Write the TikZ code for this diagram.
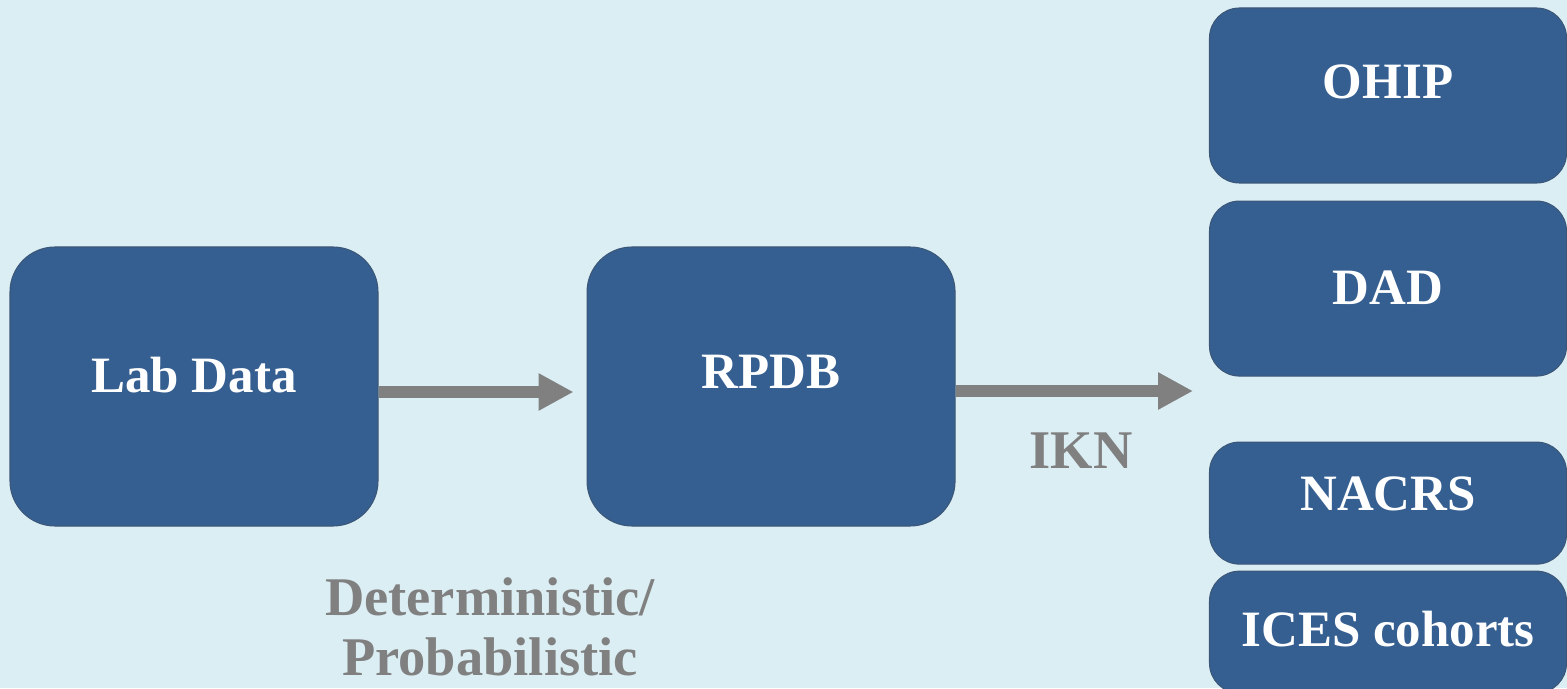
\documentclass[tikz,border=0pt]{standalone}
\usepackage{fontspec}
\setmainfont{Liberation Serif}
\usepackage{xcolor}
\usepackage{tikz}
\usetikzlibrary{positioning,arrows.meta}

\definecolor{bgblue}{HTML}{DBEEF4}
\definecolor{boxblue}{HTML}{365F91}
\definecolor{boxline}{HTML}{3B5778}
\definecolor{flowgray}{HTML}{808080}

\tikzset{
  databox/.style={draw=boxline, line width=0.6pt, fill=boxblue, text=white, font=\fontsize{29}{35}\selectfont\bfseries, align=center, text height=0.68cm},
  bigbox/.style={databox, rounded corners=0.9cm, minimum width=7.36cm, minimum height=5.58cm},
  sidebox/.style={databox, rounded corners=0.6cm, minimum width=7.14cm},
  flow/.style={draw=flowgray, line width=0.24cm, -{Triangle[length=0.7cm,width=0.7cm]}},
  flowlabel/.style={text=flowgray, font=\fontsize{31}{34}\selectfont\bfseries, align=center}
}

\begin{document}
\begin{tikzpicture}
 % background and page size
 \fill[bgblue] (0,0) rectangle (31.34,13.76);
 \useasboundingbox (0,0) rectangle (31.34,13.76);
 \begin{scope}
 \clip (0,0) rectangle (31.34,13.76);
 % main chain
 \node[bigbox, text depth=0.45cm] (LabData) at (3.88,6.03) {Lab Data};
 \node[bigbox, text depth=0.6cm, right=4.16cm of LabData] (RPDB) {RPDB};
 % linked data holdings on the right
 \node[sidebox, minimum height=3.5cm, text depth=0.55cm] (OHIP) at (27.76,11.85) {OHIP};
 \node[sidebox, minimum height=3.5cm, text depth=0.05cm, below=0.34cm of OHIP] (DAD) {DAD};
 \node[sidebox, minimum height=2.44cm, text depth=0.4cm, below=1.3cm of DAD] (NACRS) {NACRS};
 \node[sidebox, minimum height=2.44cm, text depth=0.1cm, below=0.12cm of NACRS] (ICES) {ICES cohorts};
 \end{scope}
 % arrows and their labels
 \coordinate (IKNend) at (23.86,5.94);
 \draw[flow, shorten >=0.26cm] ([yshift=-0.11cm]LabData.east) -- ([yshift=-0.11cm]RPDB.west);
 \draw[flow] (RPDB.east |- IKNend) -- (IKNend);
 \node[flowlabel] (Match) at (9.8,1.22) {Deterministic/\\Probabilistic};
 \node[flowlabel] (IKN) at (21.62,4.74) {IKN};
\end{tikzpicture}
\end{document}
